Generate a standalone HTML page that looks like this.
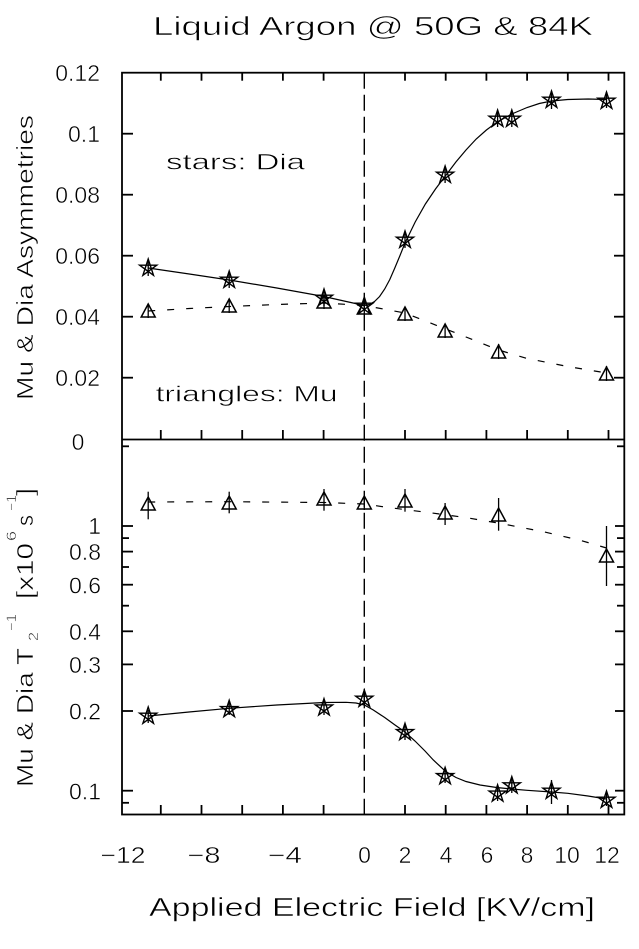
<!DOCTYPE html>
<html>
<head>
<meta charset="utf-8">
<style>
  html,body{margin:0;padding:0;background:#fff;}
  svg{display:block;}
  text{font-family:"Liberation Sans",sans-serif;fill:#000;}
</style>
</head>
<body>
<svg width="639" height="949" viewBox="0 0 639 949" xmlns="http://www.w3.org/2000/svg">
  <defs>
    <path id="star" d="M0,-9 L5.29,7.28 L-8.56,-2.78 L8.56,-2.78 L-5.29,7.28 Z" fill="none" stroke="#000" stroke-width="1.4" stroke-linejoin="miter"/>
    <path id="tri" d="M0,-6 L7,7 L-7,7 Z" fill="none" stroke="#000" stroke-width="1.5"/>
  </defs>
  <rect width="639" height="949" fill="#fff"/>

  <g stroke="#fff" stroke-width="0.6">
  <!-- Title -->
  <text x="153" y="35" font-size="26" textLength="440" lengthAdjust="spacingAndGlyphs">Liquid Argon @ 50G &amp; 84K</text>
  </g>

  <!-- Frame -->
  <g stroke="#000" fill="none">
    <rect x="122" y="72.7" width="502.3" height="741.8" stroke-width="1.8"/>
    <line x1="122" y1="439.5" x2="624.3" y2="439.5" stroke-width="1.8"/>
  </g>

  <!-- Ticks -->
  <g stroke="#000" stroke-width="1.8">
    <line x1="122" y1="133.7" x2="133" y2="133.7"/><line x1="624.3" y1="133.7" x2="614" y2="133.7"/>
    <line x1="122" y1="194.7" x2="133" y2="194.7"/><line x1="624.3" y1="194.7" x2="614" y2="194.7"/>
    <line x1="122" y1="255.7" x2="133" y2="255.7"/><line x1="624.3" y1="255.7" x2="614" y2="255.7"/>
    <line x1="122" y1="316.7" x2="133" y2="316.7"/><line x1="624.3" y1="316.7" x2="614" y2="316.7"/>
    <line x1="122" y1="377.7" x2="133" y2="377.7"/><line x1="624.3" y1="377.7" x2="614" y2="377.7"/>
    <line x1="160.8" y1="72.7" x2="160.8" y2="80.7"/><line x1="160.8" y1="439.5" x2="160.8" y2="430"/><line x1="160.8" y1="814.5" x2="160.8" y2="805"/>
    <line x1="201.5" y1="72.7" x2="201.5" y2="80.7"/><line x1="201.5" y1="439.5" x2="201.5" y2="430"/><line x1="201.5" y1="814.5" x2="201.5" y2="805"/>
    <line x1="242.2" y1="72.7" x2="242.2" y2="80.7"/><line x1="242.2" y1="439.5" x2="242.2" y2="430"/><line x1="242.2" y1="814.5" x2="242.2" y2="805"/>
    <line x1="282.9" y1="72.7" x2="282.9" y2="80.7"/><line x1="282.9" y1="439.5" x2="282.9" y2="430"/><line x1="282.9" y1="814.5" x2="282.9" y2="805"/>
    <line x1="323.6" y1="72.7" x2="323.6" y2="80.7"/><line x1="323.6" y1="439.5" x2="323.6" y2="430"/><line x1="323.6" y1="814.5" x2="323.6" y2="805"/>
    <line x1="405" y1="72.7" x2="405" y2="80.7"/><line x1="405" y1="439.5" x2="405" y2="430"/><line x1="405" y1="814.5" x2="405" y2="805"/>
    <line x1="445.7" y1="72.7" x2="445.7" y2="80.7"/><line x1="445.7" y1="439.5" x2="445.7" y2="430"/><line x1="445.7" y1="814.5" x2="445.7" y2="805"/>
    <line x1="486.4" y1="72.7" x2="486.4" y2="80.7"/><line x1="486.4" y1="439.5" x2="486.4" y2="430"/><line x1="486.4" y1="814.5" x2="486.4" y2="805"/>
    <line x1="527.1" y1="72.7" x2="527.1" y2="80.7"/><line x1="527.1" y1="439.5" x2="527.1" y2="430"/><line x1="527.1" y1="814.5" x2="527.1" y2="805"/>
    <line x1="567.8" y1="72.7" x2="567.8" y2="80.7"/><line x1="567.8" y1="439.5" x2="567.8" y2="430"/><line x1="567.8" y1="814.5" x2="567.8" y2="805"/>
    <line x1="608.5" y1="72.7" x2="608.5" y2="80.7"/><line x1="608.5" y1="439.5" x2="608.5" y2="430"/><line x1="608.5" y1="814.5" x2="608.5" y2="805"/>
    <line x1="122" y1="802.8" x2="129" y2="802.8"/><line x1="624.3" y1="802.8" x2="617" y2="802.8"/>
    <line x1="122" y1="790.7" x2="133" y2="790.7"/><line x1="624.3" y1="790.7" x2="615" y2="790.7"/>
    <line x1="122" y1="711" x2="133" y2="711"/><line x1="624.3" y1="711" x2="615" y2="711"/>
    <line x1="122" y1="664.4" x2="133" y2="664.4"/><line x1="624.3" y1="664.4" x2="615" y2="664.4"/>
    <line x1="122" y1="631.3" x2="133" y2="631.3"/><line x1="624.3" y1="631.3" x2="615" y2="631.3"/>
    <line x1="122" y1="605.7" x2="129" y2="605.7"/><line x1="624.3" y1="605.7" x2="617" y2="605.7"/>
    <line x1="122" y1="584.7" x2="133" y2="584.7"/><line x1="624.3" y1="584.7" x2="615" y2="584.7"/>
    <line x1="122" y1="567" x2="129" y2="567"/><line x1="624.3" y1="567" x2="617" y2="567"/>
    <line x1="122" y1="551.6" x2="133" y2="551.6"/><line x1="624.3" y1="551.6" x2="615" y2="551.6"/>
    <line x1="122" y1="538.1" x2="129" y2="538.1"/><line x1="624.3" y1="538.1" x2="617" y2="538.1"/>
    <line x1="122" y1="526" x2="133" y2="526"/><line x1="624.3" y1="526" x2="615" y2="526"/>
    <line x1="122" y1="446.3" x2="129" y2="446.3"/><line x1="624.3" y1="446.3" x2="617" y2="446.3"/>
  </g>

  <!-- Dashed vertical line at x=0 -->
  <line x1="364.3" y1="72.7" x2="364.3" y2="814.5" stroke="#000" stroke-width="1.4" stroke-dasharray="16 6"/>

  <!-- Top panel: solid Dia curve -->
  <polyline fill="none" stroke="#000" stroke-width="1.2" points="148.2,268 189.3,274 229.2,280 276.8,288 324,296.5 344,301 364.3,305.5 369.4,304.5 374.5,301.5 379.6,296.5 384.7,289 389.8,279.5 394.8,268 400,255.5 405,243 415.2,222 425.4,204 435.5,189 445.7,175.5 455.9,162 466,150 476.2,139 486.4,130 497.2,122 511.8,114 527.1,107.5 539.3,103.5 551.5,101 567.8,99.5 588.2,99 606.5,99.5"/>
  <!-- Top panel: dashed Mu curve -->
  <polyline fill="none" stroke="#000" stroke-width="1.2" stroke-dasharray="7 12" points="148.2,311 189.3,308.5 229.2,306.5 276.8,304.5 324,303 364.3,305.5 405,313 445.7,329 466,337 498.6,350 527.1,358.5 567.8,366.5 606.5,373"/>

  <!-- Top panel error bars -->
  <g stroke="#000" stroke-width="1.3">
    <line x1="148.2" y1="260" x2="148.2" y2="276"/>
    <line x1="229.2" y1="272" x2="229.2" y2="288"/>
    <line x1="324" y1="290" x2="324" y2="306"/>
    <line x1="364.3" y1="299" x2="364.3" y2="315"/>
    <line x1="405" y1="232" x2="405" y2="248"/>
    <line x1="445.1" y1="167" x2="445.1" y2="183"/>
    <line x1="497.6" y1="111" x2="497.6" y2="127"/>
    <line x1="511.8" y1="111" x2="511.8" y2="127"/>
    <line x1="551.5" y1="91" x2="551.5" y2="109"/>
    <line x1="606.5" y1="92" x2="606.5" y2="108"/>
    <line x1="148.2" y1="304" x2="148.2" y2="318"/>
    <line x1="229.2" y1="299" x2="229.2" y2="313"/>
    <line x1="324" y1="295" x2="324" y2="309"/>
    <line x1="405" y1="307" x2="405" y2="321"/>
    <line x1="445.1" y1="324" x2="445.1" y2="338"/>
    <line x1="498.6" y1="344" x2="498.6" y2="359"/>
    <line x1="606.5" y1="366" x2="606.5" y2="381"/>
  </g>
  <use href="#star" x="148.2" y="268"/>
  <use href="#star" x="229.2" y="280"/>
  <use href="#star" x="324" y="298"/>
  <use href="#star" x="364.3" y="306"/>
  <use href="#star" x="405" y="240"/>
  <use href="#star" x="445.1" y="175"/>
  <use href="#star" x="497.6" y="119"/>
  <use href="#star" x="511.8" y="119"/>
  <use href="#star" x="551.5" y="100"/>
  <use href="#star" x="606.5" y="101"/>
  <use href="#tri" x="148.2" y="310"/>
  <use href="#tri" x="229.2" y="305"/>
  <use href="#tri" x="324" y="301"/>
  <use href="#tri" x="364.3" y="307"/>
  <use href="#tri" x="405" y="313"/>
  <use href="#tri" x="445.1" y="330"/>
  <use href="#tri" x="498.6" y="351"/>
  <use href="#tri" x="606.5" y="373"/>

  <!-- Bottom panel: dashed Mu curve -->
  <polyline fill="none" stroke="#000" stroke-width="1.2" stroke-dasharray="7 12" points="148.2,502 229.2,501.7 324,502.5 364.3,504 388.3,507.5 426.7,512.3 466.7,517.7 503.3,524 543.3,531.7 581.7,540.7 606.5,548"/>
  <!-- Bottom panel: solid Dia curve -->
  <polyline fill="none" stroke="#000" stroke-width="1.2" points="148.2,716 189,712 229.2,708.3 276.8,705 324,702.5 346,702.3 356,703 364.3,705 373.3,710 384.7,717.5 395,725 405,732 415,741 425,751 433.3,760 445.7,771.5 456,777.5 466,781.5 480,785 496.6,787.5 511.8,789 527,790.3 551.5,792 567.8,793.3 588,796 606.5,799"/>

  <g stroke="#000" stroke-width="1.3">
    <line x1="148.2" y1="491.7" x2="148.2" y2="519.3"/>
    <line x1="229.2" y1="491.7" x2="229.2" y2="513.3"/>
    <line x1="324" y1="489" x2="324" y2="510.7"/>
    <line x1="364.3" y1="495" x2="364.3" y2="510"/>
    <line x1="405" y1="489" x2="405" y2="511.7"/>
    <line x1="445.1" y1="503" x2="445.1" y2="525"/>
    <line x1="498.6" y1="498" x2="498.6" y2="530.7"/>
    <line x1="606.5" y1="526" x2="606.5" y2="586"/>
    <line x1="148.2" y1="710" x2="148.2" y2="723"/>
    <line x1="229.2" y1="702" x2="229.2" y2="715"/>
    <line x1="324" y1="700" x2="324" y2="715"/>
    <line x1="364.3" y1="690.7" x2="364.3" y2="708.3"/>
    <line x1="405" y1="725" x2="405" y2="740"/>
    <line x1="445.1" y1="768" x2="445.1" y2="783"/>
    <line x1="497.6" y1="788" x2="497.6" y2="801"/>
    <line x1="511.8" y1="778" x2="511.8" y2="793"/>
    <line x1="551.5" y1="780" x2="551.5" y2="804"/>
    <line x1="606.5" y1="793" x2="606.5" y2="806"/>
  </g>
  <use href="#tri" x="148.2" y="503"/>
  <use href="#tri" x="229.2" y="502"/>
  <use href="#tri" x="324" y="498"/>
  <use href="#tri" x="364.3" y="502"/>
  <use href="#tri" x="405" y="500"/>
  <use href="#tri" x="445.1" y="512"/>
  <use href="#tri" x="498.6" y="514"/>
  <use href="#tri" x="606.5" y="555"/>
  <use href="#star" x="148.2" y="716"/>
  <use href="#star" x="229.2" y="709.3"/>
  <use href="#star" x="324" y="707.7"/>
  <use href="#star" x="364.3" y="699"/>
  <use href="#star" x="405" y="732.3"/>
  <use href="#star" x="445.1" y="776.4"/>
  <use href="#star" x="497.6" y="793.8"/>
  <use href="#star" x="511.8" y="785.6"/>
  <use href="#star" x="551.5" y="791"/>
  <use href="#star" x="606.5" y="800"/>

  <g stroke="#fff" stroke-width="0.5">
  <text x="166" y="169.5" font-size="22" textLength="139" lengthAdjust="spacingAndGlyphs">stars: Dia</text>
  <text x="155.6" y="401.7" font-size="22" textLength="182" lengthAdjust="spacingAndGlyphs">triangles: Mu</text>

  <g font-size="23" text-anchor="end">
    <text x="100" y="81.2">0.12</text>
    <text x="100" y="142.2">0.1</text>
    <text x="100" y="203.2">0.08</text>
    <text x="100" y="264.2">0.06</text>
    <text x="100" y="325.2">0.04</text>
    <text x="100" y="386.2">0.02</text>
  </g>
  <text x="78" y="450" font-size="23" text-anchor="middle">0</text>

  <g font-size="23" text-anchor="end">
    <text x="101" y="534">1</text>
    <text x="101" y="560">0.8</text>
    <text x="101" y="593.5">0.6</text>
    <text x="101" y="640">0.4</text>
    <text x="101" y="673">0.3</text>
    <text x="101" y="719.5">0.2</text>
    <text x="101" y="799.5">0.1</text>
  </g>

  <g font-size="23" text-anchor="middle">
    <text x="123" y="863" textLength="45" lengthAdjust="spacingAndGlyphs">−12</text>
    <text x="204" y="863" textLength="33" lengthAdjust="spacingAndGlyphs">−8</text>
    <text x="285" y="863" textLength="34" lengthAdjust="spacingAndGlyphs">−4</text>
    <text x="364.5" y="863">0</text>
    <text x="405" y="863">2</text>
    <text x="446" y="863">4</text>
    <text x="487" y="863">6</text>
    <text x="527" y="863">8</text>
    <text x="567" y="863">10</text>
    <text x="607" y="863">12</text>
  </g>

  <text x="149" y="916" font-size="26" textLength="446" lengthAdjust="spacingAndGlyphs">Applied Electric Field [KV/cm]</text>

  <text transform="translate(33,400) rotate(-90)" font-size="23" textLength="285" lengthAdjust="spacingAndGlyphs">Mu &amp; Dia Asymmetries</text>

  <text transform="translate(33,787) rotate(-90)" font-size="23" textLength="139" lengthAdjust="spacingAndGlyphs">Mu &amp; Dia T</text>
  <text transform="translate(38,641) rotate(-90)" font-size="14" textLength="9" lengthAdjust="spacingAndGlyphs">2</text>
  <text transform="translate(16,631) rotate(-90)" font-size="14" textLength="17" lengthAdjust="spacingAndGlyphs">−1</text>
  <text transform="translate(33,599) rotate(-90)" font-size="23" textLength="56" lengthAdjust="spacingAndGlyphs">[x10</text>
  <text transform="translate(16,541) rotate(-90)" font-size="14" textLength="10" lengthAdjust="spacingAndGlyphs">6</text>
  <text transform="translate(33,526) rotate(-90)" font-size="23" textLength="11" lengthAdjust="spacingAndGlyphs">s</text>
  <text transform="translate(16,511) rotate(-90)" font-size="14" textLength="16" lengthAdjust="spacingAndGlyphs">−1</text>
  <text transform="translate(33,496) rotate(-90)" font-size="23" textLength="8" lengthAdjust="spacingAndGlyphs">]</text>
  </g>
</svg>
</body>
</html>
